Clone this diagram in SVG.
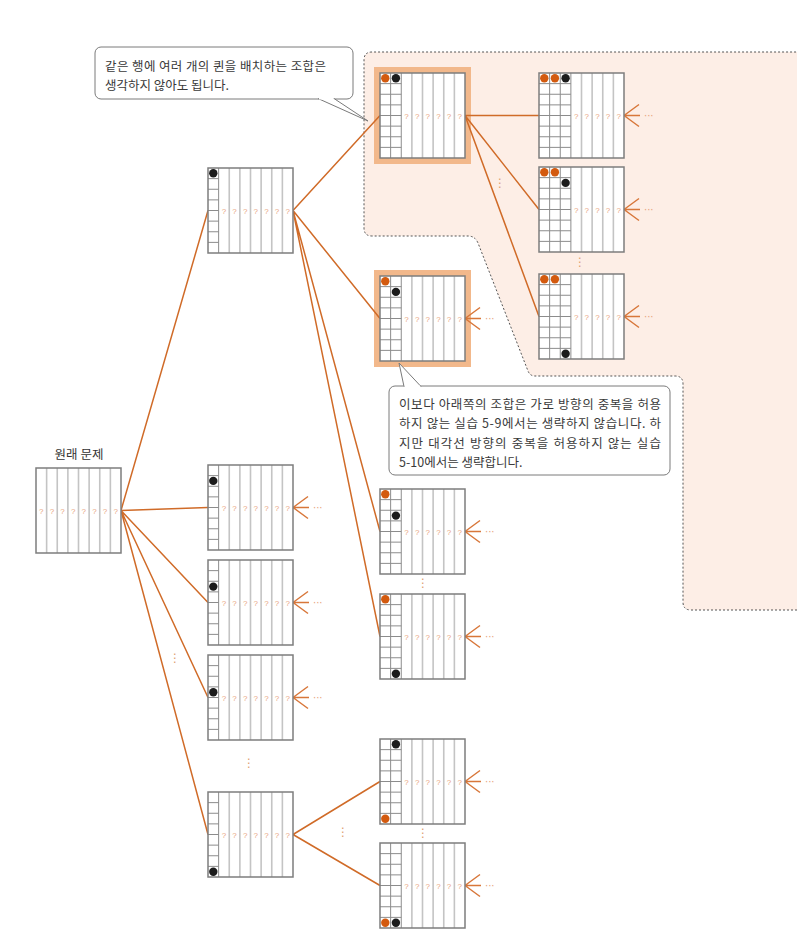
<svg xmlns="http://www.w3.org/2000/svg" xmlns:xlink="http://www.w3.org/1999/xlink" width="810" height="952" viewBox="0 0 810 952">
<style>
.lq{stroke:#c4c4c4;stroke-width:1.6;fill:none}
.lc{stroke:#8c8c8c;stroke-width:1;fill:none}
.bo{fill:none;stroke:#7d7d7d;stroke-width:1.5}
.q{font-family:"Liberation Sans",sans-serif;font-size:8px;fill:#e8a47c;text-anchor:middle}
.cn{stroke:#d06b28;stroke-width:1.5;fill:none}
.ch{stroke:#d8773a;stroke-width:1.5;fill:none}
.el{font-family:"DejaVu Sans",sans-serif;font-size:10px;fill:#e8a47c}
.vd{font-family:"DejaVu Sans",sans-serif;font-size:12px;fill:#e0a070;text-anchor:middle}
.od{fill:#d35a0f}
.bd{fill:#1c1c1c}
.hl{fill:#f2b88b}
.ct{font-family:"Noto Sans CJK KR","Noto Sans",sans-serif;font-size:12.5px;fill:#3a3a3a}
.cb{fill:#fff;stroke:#7a7a7a;stroke-width:1}
.lb{font-family:"Noto Sans CJK KR","Noto Sans",sans-serif;font-size:12.5px;fill:#333;text-anchor:middle}
</style>
<defs>
<g id="b0">
<rect width="85" height="85" fill="#fff"/>
<path class="lq" d="M10.625 0V85M21.25 0V85M31.875 0V85M42.5 0V85M53.125 0V85M63.75 0V85M74.375 0V85"/>
<text class="q" x="5.31 15.94 26.56 37.19 47.81 58.44 69.06 79.69" y="45.5">????????</text>
<rect class="bo" width="85" height="85"/>
</g>
<g id="b1">
<rect width="85" height="85" fill="#fff"/>
<path class="lq" d="M21.25 0V85M31.875 0V85M42.5 0V85M53.125 0V85M63.75 0V85M74.375 0V85"/>
<path class="lc" d="M10.625 0V85M0 10.625H10.625M0 21.25H10.625M0 31.875H10.625M0 42.5H10.625M0 53.125H10.625M0 63.75H10.625M0 74.375H10.625"/>
<text class="q" x="15.94 26.56 37.19 47.81 58.44 69.06 79.69" y="45.5">???????</text>
<rect class="bo" width="85" height="85"/>
</g>
<g id="b2">
<rect width="85" height="85" fill="#fff"/>
<path class="lq" d="M31.875 0V85M42.5 0V85M53.125 0V85M63.75 0V85M74.375 0V85"/>
<path class="lc" d="M10.625 0V85M21.25 0V85M0 10.625H21.25M0 21.25H21.25M0 31.875H21.25M0 42.5H21.25M0 53.125H21.25M0 63.75H21.25M0 74.375H21.25"/>
<text class="q" x="26.56 37.19 47.81 58.44 69.06 79.69" y="45.5">??????</text>
<rect class="bo" width="85" height="85"/>
</g>
<g id="b3">
<rect width="85" height="85" fill="#fff"/>
<path class="lq" d="M42.5 0V85M53.125 0V85M63.75 0V85M74.375 0V85"/>
<path class="lc" d="M10.625 0V85M21.25 0V85M31.875 0V85M0 10.625H31.875M0 21.25H31.875M0 31.875H31.875M0 42.5H31.875M0 53.125H31.875M0 63.75H31.875M0 74.375H31.875"/>
<text class="q" x="37.19 47.81 58.44 69.06 79.69" y="45.5">?????</text>
<rect class="bo" width="85" height="85"/>
</g>
</defs>

<g id="region">
<path d="M797 610H691Q683 610 683 602V384Q683 376 675 376H535Q530 376 528 371L478 243Q475 236 468 236H372Q364 236 364 228V60Q364 52 372 52H797Z" fill="#fdeee6"/>
<path d="M797 610H691Q683 610 683 602V384Q683 376 675 376H535Q530 376 528 371L478 243Q475 236 468 236H372Q364 236 364 228V60Q364 52 372 52H797" fill="none" stroke="#555" stroke-width="1" stroke-dasharray="2 2"/>
</g>

<g id="highlights">
<rect class="hl" x="374" y="67" width="97" height="97"/>
<rect class="hl" x="374" y="270" width="97" height="97"/>
</g>

<g id="connectors">
<path class="cn" d="M121 510.5L208 210.5M121 510.5L208 507.5M121 510.5L208 602.5M121 510.5L208 697.5M121 510.5L208 834.5"/>
<path class="cn" d="M293 210.5L380 115.5M293 210.5L380 318.5M293 210.5L380 531.5M293 210.5L380 636.5"/>
<path class="cn" d="M465 115.5L539 115.5M465 115.5L539 209.5M465 115.5L539 316.5"/>
<path class="cn" d="M293 834.5L380 781.5M293 834.5L380 885.5"/>
<path class="ch" d="M293 507.5l15 -11M293 507.5h16M293 507.5l15 11M293 602.5l15 -11M293 602.5h16M293 602.5l15 11M293 697.5l15 -11M293 697.5h16M293 697.5l15 11"/>
<path class="ch" d="M465 318.5l15 -11M465 318.5h16M465 318.5l15 11M465 531.5l15 -11M465 531.5h16M465 531.5l15 11M465 636.5l15 -11M465 636.5h16M465 636.5l15 11M465 781.5l15 -11M465 781.5h16M465 781.5l15 11M465 885.5l15 -11M465 885.5h16M465 885.5l15 11"/>
<path class="ch" d="M624 115.5l15 -11M624 115.5h16M624 115.5l15 11M624 209.5l15 -11M624 209.5h16M624 209.5l15 11M624 316.5l15 -11M624 316.5h16M624 316.5l15 11"/>
<text class="el" x="313" y="510.5">···</text>
<text class="el" x="313" y="605.5">···</text>
<text class="el" x="313" y="700.5">···</text>
<text class="el" x="485" y="321.5">···</text>
<text class="el" x="485" y="534.5">···</text>
<text class="el" x="485" y="639.5">···</text>
<text class="el" x="485" y="784.5">···</text>
<text class="el" x="485" y="888.5">···</text>
<text class="el" x="644" y="118.5">···</text>
<text class="el" x="644" y="212.5">···</text>
<text class="el" x="644" y="319.5">···</text>
</g>

<g id="ellipses">
<text class="vd" x="175" y="662">⋮</text>
<text class="vd" x="249" y="767">⋮</text>
<text class="vd" x="423" y="587">⋮</text>
<text class="vd" x="500" y="187">⋮</text>
<text class="vd" x="580" y="266">⋮</text>
<text class="vd" x="423" y="837">⋮</text>
<text class="vd" x="343" y="836">⋮</text>
</g>

<g id="root">
<text class="lb" x="79" y="459">원래 문제</text>
<use xlink:href="#b0" href="#b0" x="36" y="468"/>
</g>
<g id="n1a"><use xlink:href="#b1" href="#b1" x="208" y="168"/><circle class="bd" cx="213.3" cy="173.3" r="4.2"/></g>
<g id="n1b"><use xlink:href="#b1" href="#b1" x="208" y="465"/><circle class="bd" cx="213.3" cy="480.9" r="4.2"/></g>
<g id="n1c"><use xlink:href="#b1" href="#b1" x="208" y="560"/><circle class="bd" cx="213.3" cy="586.6" r="4.2"/></g>
<g id="n1d"><use xlink:href="#b1" href="#b1" x="208" y="655"/><circle class="bd" cx="213.3" cy="692.2" r="4.2"/></g>
<g id="n1e"><use xlink:href="#b1" href="#b1" x="208" y="792"/><circle class="bd" cx="213.3" cy="871.7" r="4.2"/></g>

<g id="n2a"><use xlink:href="#b2" href="#b2" x="380" y="73"/><circle class="od" cx="385.3" cy="78.3" r="4.2"/><circle class="bd" cx="395.9" cy="78.3" r="4.2"/></g>
<g id="n2b"><use xlink:href="#b2" href="#b2" x="380" y="276"/><circle class="od" cx="385.3" cy="281.3" r="4.2"/><circle class="bd" cx="395.9" cy="291.9" r="4.2"/></g>
<g id="n2c"><use xlink:href="#b2" href="#b2" x="380" y="489"/><circle class="od" cx="385.3" cy="494.3" r="4.2"/><circle class="bd" cx="395.9" cy="515.6" r="4.2"/></g>
<g id="n2d"><use xlink:href="#b2" href="#b2" x="380" y="594"/><circle class="od" cx="385.3" cy="599.3" r="4.2"/><circle class="bd" cx="395.9" cy="673.7" r="4.2"/></g>
<g id="n2e"><use xlink:href="#b2" href="#b2" x="380" y="739"/><circle class="bd" cx="395.9" cy="744.3" r="4.2"/><circle class="od" cx="385.3" cy="818.7" r="4.2"/></g>
<g id="n2f"><use xlink:href="#b2" href="#b2" x="380" y="843"/><circle class="od" cx="385.3" cy="922.7" r="4.2"/><circle class="bd" cx="395.9" cy="922.7" r="4.2"/></g>

<g id="n3a"><use xlink:href="#b3" href="#b3" x="539" y="73"/><circle class="od" cx="544.3" cy="78.3" r="4.2"/><circle class="od" cx="554.9" cy="78.3" r="4.2"/><circle class="bd" cx="565.6" cy="78.3" r="4.2"/></g>
<g id="n3b"><use xlink:href="#b3" href="#b3" x="539" y="167"/><circle class="od" cx="544.3" cy="172.3" r="4.2"/><circle class="od" cx="554.9" cy="172.3" r="4.2"/><circle class="bd" cx="565.6" cy="182.9" r="4.2"/></g>
<g id="n3c"><use xlink:href="#b3" href="#b3" x="539" y="274"/><circle class="od" cx="544.3" cy="279.3" r="4.2"/><circle class="od" cx="554.9" cy="279.3" r="4.2"/><circle class="bd" cx="565.6" cy="353.7" r="4.2"/></g>

<g id="callout1">
<rect class="cb" x="95" y="47" width="258" height="52" rx="6"/>
<path d="M318 98.5L368 121L334 98.5" fill="#fff" stroke="#7a7a7a" stroke-width="1"/>
<path d="M319 98.5H333" stroke="#fff" stroke-width="2"/>
<text class="ct" x="105" y="70.5" textLength="221" lengthAdjust="spacing">같은 행에 여러 개의 퀸을 배치하는 조합은</text>
<text class="ct" x="105" y="89.5">생각하지 않아도 됩니다.</text>
</g>

<g id="callout2">
<rect class="cb" x="389" y="386" width="281" height="89" rx="6"/>
<path d="M404 386.5L399 363L421 386.5" fill="#fff" stroke="#7a7a7a" stroke-width="1"/>
<path d="M405 386.5H420" stroke="#fff" stroke-width="2"/>
<text class="ct" x="399" y="408.5" textLength="262" lengthAdjust="spacing">이보다 아래쪽의 조합은 가로 방향의 중복을 허용</text>
<text class="ct" x="399" y="428" textLength="262" lengthAdjust="spacing">하지 않는 실습 5-9에서는 생략하지 않습니다. 하</text>
<text class="ct" x="399" y="447.5" textLength="262" lengthAdjust="spacing">지만 대각선 방향의 중복을 허용하지 않는 실습</text>
<text class="ct" x="399" y="467">5-10에서는 생략합니다.</text>
</g>
</svg>
